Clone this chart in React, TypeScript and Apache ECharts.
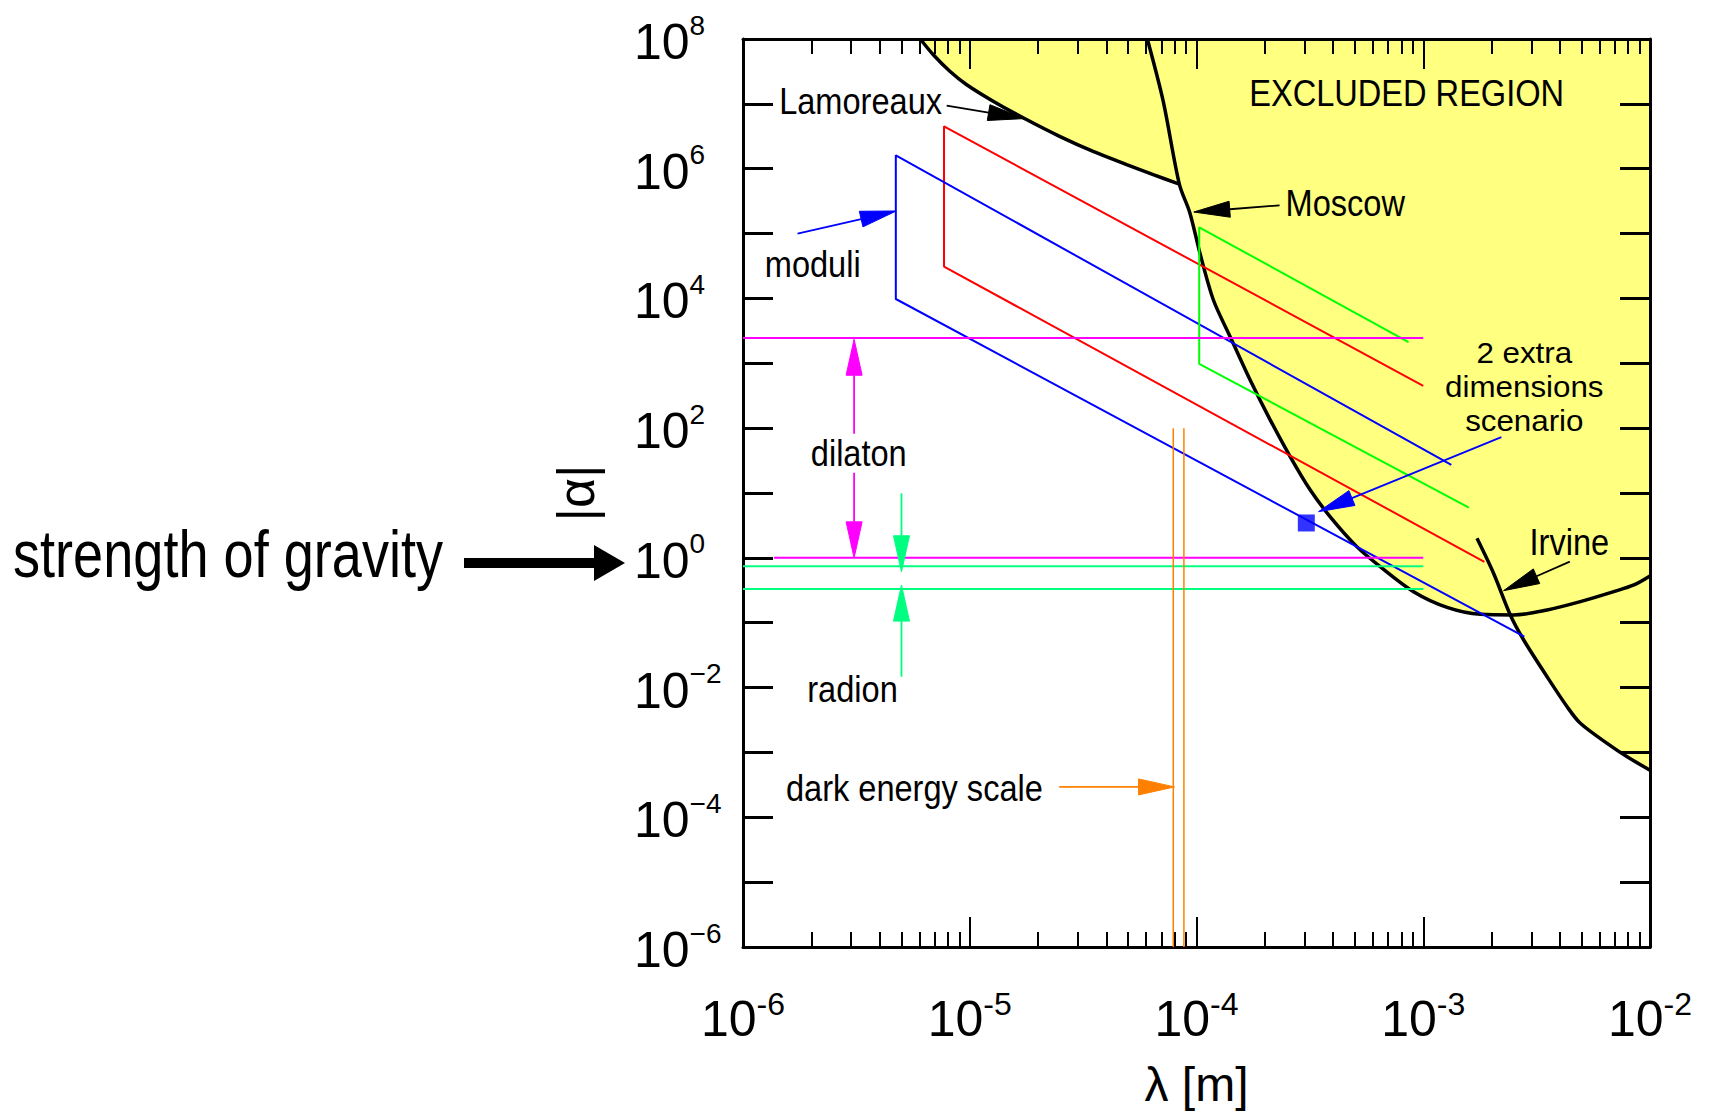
import React, { useEffect, useRef } from 'react';
import * as echarts from 'echarts';

// ---------- axis ranges / ticks (decade exponents) ----------
const X_MIN_EXP = -6;
const X_MAX_EXP = -2;
const Y_MIN_EXP = -6;
const Y_MAX_EXP = 8;
const MINOR_MULTIPLIERS = [2, 3, 4, 5, 6, 7, 8, 9];
const X_DECADES = [-6, -5, -4, -3];

// ---------- experimental bounds: [lambda (m), |alpha|] ----------
const lamoreaux: number[][] = [
  [6.05e-6, 1e8], [6.89e-6, 5.77e7], [8.17e-6, 3.18e7], [9.66e-6, 1.99e7], [1.268e-5, 1.1e7],
  [1.778e-5, 5.73e6], [2.49e-5, 3.16e6], [3.5e-5, 1.85e6], [4.92e-5, 1.16e6], [6.44e-5, 8.11e5],
  [8.4e-5, 5.8e5],
];
const moscow: number[][] = [
  [6.07e-5, 1e8], [7.13e-5, 1.1e7], [8.4e-5, 5.8e5], [9.35e-5, 2.08e5], [1.035e-4, 5.01e4],
  [1.186e-4, 9.55e3], [1.406e-4, 2.59e3], [1.722e-4, 556], [2.113e-4, 134], [2.588e-4, 36.5],
  [3.17e-4, 11.2], [3.88e-4, 4.33], [5.09e-4, 1.49], [6.46e-4, 0.731], [9.06e-4, 0.301],
  [1.274e-3, 0.1726], [1.786e-3, 0.1346], [2.506e-3, 0.1315], [3.516e-3, 0.157], [4.93e-3, 0.211],
  [6.92e-3, 0.301], [8.49e-3, 0.382], [1e-2, 0.526],
];
const irvine: number[][] = [
  [1.726e-3, 2.0], [2.042e-3, 0.578], [2.421e-3, 0.1315], [2.773e-3, 0.0541], [3.516e-3, 0.01469],
  [4.31e-3, 5.06e-3], [4.93e-3, 2.81e-3], [6.47e-3, 1.377e-3], [7.93e-3, 8.55e-4], [1e-2, 5.33e-4],
];
const excludedTopRight: number[] = [1e-2, 1e8];

// ---------- theory predictions ----------
const redBand: number[][] = [[1.0e-3, 450], [7.7e-6, 4.5e6], [7.7e-6, 3.1e4], [1.86e-3, 0.867]];
const blueBand: number[][] = [[1.33e-3, 27.2], [4.72e-6, 1.61e6], [4.72e-6, 9.8e3], [2.79e-3, 0.0608]];
const greenBand: number[][] = [[8.61e-4, 2.12e3], [1.028e-4, 1.25e5], [1.028e-4, 982], [1.589e-3, 5.96]];
const dilatonUpper: number[][] = [[1e-6, 2.45e3], [1e-3, 2.45e3]];
const dilatonLower: number[][] = [[1.37e-6, 1.0], [1e-3, 1.0]];
const radionUpper: number[][] = [[1e-6, 0.74], [1e-3, 0.74]];
const radionLower: number[][] = [[1e-6, 0.33], [1e-3, 0.33]];
const darkEnergyA: number[][] = [[7.9e-5, 100], [7.9e-5, 1e-6]];
const darkEnergyB: number[][] = [[8.8e-5, 100], [8.8e-5, 1e-6]];
const scenarioPoint: number[][] = [[3.05e-4, 3.45]];

// ---------- annotation arrows: [from lambda, from alpha, to lambda, to alpha] ----------
const arrowLines: number[][] = [
  [7.91e-6, 9.42e6, 1.737e-5, 5.93e6],   // Lamoreaux
  [2.325e-4, 2.72e5, 9.73e-5, 2.15e5],   // Moscow
  [1.74e-6, 9.95e4, 4.74e-6, 2.23e5],    // moduli
  [2.21e-3, 72.6, 3.455e-4, 5.16],       // 2 extra dimensions
  [4.43e-3, 0.874, 2.26e-3, 0.312],      // Irvine
  [2.48e-5, 2.94e-4, 8.0e-5, 2.94e-4],   // dark energy
  [3.09e-6, 81.7, 3.09e-6, 2.35e3],      // dilaton up
  [3.09e-6, 20.6, 3.09e-6, 1.0],         // dilaton down
  [5.0e-6, 9.9, 5.0e-6, 0.61],           // radion down
  [5.0e-6, 0.0147, 5.0e-6, 0.38],        // radion up
];
const arrowColors = ['#000000', '#000000', '#0000FF', '#0000FF', '#000000', '#FF8000', '#FF00FF', '#FF00FF', '#00FF80', '#00FF80'];

// ---------- annotation texts ----------
const annotationTexts = [
  'Lamoreaux', 'moduli', 'dilaton', 'radion', 'dark energy scale', 'Moscow',
  'EXCLUDED REGION', '2 extra\ndimensions\nscenario', 'Irvine',
];
const annotationAnchors: number[][] = [
  [3.3e-6, 1.12e7], [2.03e-6, 3.4e4], [3.24e-6, 41.6], [3.04e-6, 9.5e-3], [5.7e-6, 2.9e-4],
  [4.53e-4, 3.0e5], [8.45e-4, 1.5e7], [2.79e-3, 434], [4.41e-3, 1.76],
];

const FONT = "'Liberation Sans', Arial, sans-serif";
const L = (v: number) => Math.log10(v);
const toLog = (pts: number[][]) => pts.map(([x, y]) => [L(x), L(y)]);

function buildOption() {
  const lamEnd = lamoreaux[lamoreaux.length - 1][0];
  const cross = irvine[2];
  const fillBoundary = [
    ...lamoreaux,
    ...moscow.filter(([x]) => x > lamEnd && x < cross[0]),
    ...irvine.filter(([, y]) => y <= cross[1]),
    excludedTopRight,
  ];
  const fillLog = toLog(fillBoundary);

  const xMinor: number[] = [];
  X_DECADES.forEach((d) => MINOR_MULTIPLIERS.forEach((m) => xMinor.push(L(m * Math.pow(10, d)))));

  const black = '#000';
  const axisLine = { show: true, onZero: false, lineStyle: { color: black, width: 3 } };

  const xLabelRich = {
    b: { fontSize: 50, lineHeight: 56, fontFamily: FONT, color: black, verticalAlign: 'bottom' },
    s: { fontSize: 32, lineHeight: 29, fontFamily: FONT, color: black, verticalAlign: 'top' },
  };
  const yLabelRich = {
    b: { fontSize: 50, lineHeight: 56, fontFamily: FONT, color: black, verticalAlign: 'bottom' },
    s: { fontSize: 28, lineHeight: 34, fontFamily: FONT, color: black, verticalAlign: 'top' },
  };

  const lineSeries = (data: number[][], color: string, width: number, smooth: number | boolean = false) => ({
    type: 'line',
    data: toLog(data),
    showSymbol: false,
    symbol: 'none',
    smooth,
    silent: true,
    lineStyle: { color, width },
    z: 3,
  });

  return {
    animation: false,
    textStyle: { fontFamily: FONT },
    grid: { left: 743, right: 72, top: 39, bottom: 169, containLabel: false, outerBoundsMode: 'none' },
    xAxis: [
      {
        type: 'value', position: 'bottom', min: X_MIN_EXP, max: X_MAX_EXP, interval: 1,
        axisLine,
        axisTick: { show: true, inside: true, length: 30, lineStyle: { color: black, width: 2 } },
        axisLabel: {
          show: true, margin: 41, showMinLabel: true, showMaxLabel: true,
          formatter: (v: number) => `{b|10}{s|${Math.round(v)}}`,
          rich: xLabelRich,
        },
        splitLine: { show: false },
        name: 'λ [m]', nameLocation: 'middle', nameGap: 111,
        nameTextStyle: { fontSize: 48, lineHeight: 52, fontFamily: FONT, color: black },
      },
      {
        type: 'value', position: 'bottom', min: X_MIN_EXP, max: X_MAX_EXP,
        axisLine: { show: false, onZero: false },
        axisTick: { show: true, inside: true, length: 15, customValues: xMinor, lineStyle: { color: black, width: 2 } },
        axisLabel: { show: false }, splitLine: { show: false },
      },
      {
        type: 'value', position: 'top', min: X_MIN_EXP, max: X_MAX_EXP, interval: 1,
        axisLine,
        axisTick: { show: true, inside: true, length: 30, lineStyle: { color: black, width: 2 } },
        axisLabel: { show: false }, splitLine: { show: false },
      },
      {
        type: 'value', position: 'top', min: X_MIN_EXP, max: X_MAX_EXP,
        axisLine: { show: false, onZero: false },
        axisTick: { show: true, inside: true, length: 15, customValues: xMinor, lineStyle: { color: black, width: 2 } },
        axisLabel: { show: false }, splitLine: { show: false },
      },
    ],
    yAxis: [
      {
        type: 'value', position: 'left', min: Y_MIN_EXP, max: Y_MAX_EXP, interval: 1,
        axisLine,
        axisTick: { show: true, inside: true, length: 30, lineStyle: { color: black, width: 3 } },
        axisLabel: {
          show: true, margin: 109, align: 'left', showMinLabel: true, showMaxLabel: true,
          formatter: (v: number) => {
            const e = Math.round(v);
            return e % 2 === 0 ? `{b|10}{s|${e < 0 ? '−' + Math.abs(e) : e}}` : '';
          },
          rich: yLabelRich,
        },
        splitLine: { show: false },
        name: '|α|', nameLocation: 'middle', nameGap: 141, nameRotate: 90,
        nameTextStyle: { fontSize: 52, fontFamily: FONT, color: black },
      },
      {
        type: 'value', position: 'right', min: Y_MIN_EXP, max: Y_MAX_EXP, interval: 1,
        axisLine,
        axisTick: { show: true, inside: true, length: 30, lineStyle: { color: black, width: 3 } },
        axisLabel: { show: false }, splitLine: { show: false },
      },
    ],
    graphic: [
      {
        type: 'text', x: 13, y: 554, scaleX: 0.82, silent: true,
        style: { text: 'strength of gravity', fontSize: 66, fontFamily: FONT, fill: black, align: 'left', verticalAlign: 'middle' },
      },
      {
        type: 'polygon', silent: true,
        shape: { points: [[464, 558], [594, 558], [594, 545], [625, 563], [594, 581], [594, 568], [464, 568]] },
        style: { fill: black },
      },
    ],
    series: [
      {
        type: 'custom', name: 'excluded', z: -1, silent: true, clip: false,
        data: [[-4, 0]],
        renderItem: (_p: any, api: any) => ({
          type: 'polygon',
          shape: { points: fillLog.map((p) => api.coord(p)) },
          style: { fill: '#FFFF80', stroke: 'none' },
        }),
      },
      lineSeries(lamoreaux, black, 3.5, 0.3),
      lineSeries(moscow, black, 3.5, 0.3),
      lineSeries(irvine, black, 3.5, 0.3),
      lineSeries(redBand, '#FF0000', 2),
      lineSeries(blueBand, '#0000FF', 2),
      lineSeries(greenBand, '#00FF00', 2),
      lineSeries(dilatonUpper, '#FF00FF', 2),
      lineSeries(dilatonLower, '#FF00FF', 2),
      lineSeries(radionUpper, '#00FF80', 2),
      lineSeries(radionLower, '#00FF80', 2),
      lineSeries(darkEnergyA, '#FF8000', 1.5),
      lineSeries(darkEnergyB, '#FF8000', 1.5),
      {
        type: 'scatter', data: toLog(scenarioPoint), symbol: 'rect', symbolSize: 17,
        itemStyle: { color: '#0000FF' }, silent: true, z: 4,
      },
      {
        type: 'custom', name: 'arrows', silent: true, clip: false, z: 5,
        data: arrowLines.map(([a, b, c, d]) => [L(a), L(b), L(c), L(d)]),
        encode: { x: [0, 2], y: [1, 3] },
        renderItem: (params: any, api: any) => {
          const p1 = api.coord([api.value(0), api.value(1)]);
          const p2 = api.coord([api.value(2), api.value(3)]);
          const dx = p2[0] - p1[0];
          const dy = p2[1] - p1[1];
          const len = Math.hypot(dx, dy) || 1;
          const ux = dx / len;
          const uy = dy / len;
          const hl = 36;
          const hw = 8;
          const bx = p2[0] - ux * hl;
          const by = p2[1] - uy * hl;
          const color = arrowColors[params.dataIndex];
          return {
            type: 'group',
            children: [
              { type: 'line', shape: { x1: p1[0], y1: p1[1], x2: bx, y2: by }, style: { stroke: color, lineWidth: 1.8 } },
              {
                type: 'polygon',
                shape: { points: [[p2[0], p2[1]], [bx - uy * hw, by + ux * hw], [bx + uy * hw, by - ux * hw]] },
                style: { fill: color, stroke: color, lineWidth: 1 },
              },
            ],
          };
        },
      },
      {
        type: 'custom', name: 'labels', silent: true, clip: false, z: 6,
        data: toLog(annotationAnchors),
        renderItem: (params: any, api: any) => {
          const p = api.coord([api.value(0), api.value(1)]);
          const text = annotationTexts[params.dataIndex];
          const multi = text.indexOf('\n') >= 0;
          return {
            type: 'text', x: p[0], y: p[1], scaleX: multi ? 1.08 : 0.88,
            style: {
              text,
              fontSize: multi ? 29 : 37, fontFamily: FONT, fill: black,
              align: 'center', verticalAlign: 'middle', lineHeight: 34,
            },
          };
        },
      },
    ],
  };
}

export default function App() {
  const ref = useRef<HTMLDivElement>(null);
  useEffect(() => {
    if (!ref.current) return;
    const chart = echarts.init(ref.current, null, { renderer: 'svg' });
    chart.setOption(buildOption() as any);
    return () => chart.dispose();
  }, []);
  return (
    <div
      ref={ref}
      style={{ position: 'absolute', left: 0, top: 0, width: 1722, height: 1116, background: '#fff' }}
    />
  );
}
